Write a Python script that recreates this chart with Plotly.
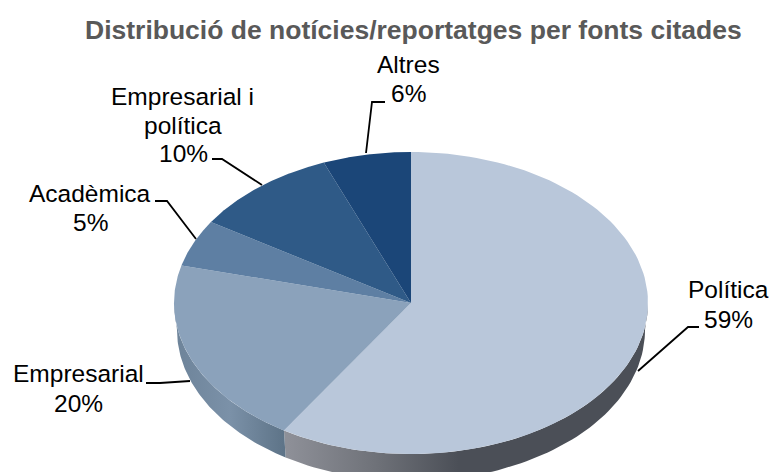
import numpy as np
import plotly.graph_objects as go

categories = ["Política", "Empresarial", "Acadèmica", "Empresarial i política", "Altres"]
shares = [59, 20, 5, 10, 6]
face_colors = ["#b9c7da", "#8ba2bb", "#5e7fa3", "#2f5a87", "#1b4678"]
title_text = "Distribució de notícies/reportatges per fonts citades"

# geometry of the tilted pie on a pixel-mapped axis
CX, CY, RX, RY, DEPTH, RIM_RX = 411, 303, 237, 151, 27, 234


def pt(deg, dy=0, rx=RX):
    a = np.radians(deg)
    return CX + rx * np.sin(a), CY - RY * np.cos(a) + dy


fig = go.Figure()
edges = np.concatenate([[0], np.cumsum(shares)]) * 3.6

# side wall (only visible on the near half of the ellipse)
side_scales = [
    [[0, "#8f9199"], [0.25, "#6f7279"], [0.48, "#4b4f57"], [1, "#4b4f57"]],
    [[0, "#6d8399"], [0.5, "#7b91a8"], [1, "#5d7387"]],
]
for i, cs in enumerate(side_scales):
    a0, a1 = max(edges[i], 90), min(edges[i + 1], 270)
    t = np.linspace(a0, a1, 80)
    xu, yu = pt(t)
    xl, yl = pt(t[::-1], DEPTH, RIM_RX)
    fig.add_trace(go.Scatter(
        x=np.r_[xu, xl], y=np.r_[yu, yl], mode="lines", line=dict(width=0),
        fill="toself", fillgradient=dict(type="horizontal", colorscale=cs),
        hoverinfo="skip", showlegend=False))

# top face
for i, name in enumerate(categories):
    t = np.linspace(edges[i], edges[i + 1], 120)
    xa, ya = pt(t)
    fig.add_trace(go.Scatter(
        x=np.r_[CX, xa, CX], y=np.r_[CY, ya, CY], mode="lines",
        line=dict(width=0), fill="toself", fillcolor=face_colors[i],
        name=name, hoverinfo="name", showlegend=False))

FONT = "Liberation Sans, Arial, sans-serif"
text_lines = [
    ("Altres", 408, 64), ("6%", 408, 93),
    ("Empresarial i", 182, 96), ("política", 183, 125), ("10%", 183, 153),
    ("Acadèmica", 90, 193), ("5%", 90, 222),
    ("Política", 728, 289), ("59%", 728, 319),
    ("Empresarial", 78, 373), ("20%", 78, 403),
]
annotations = [dict(x=x, y=y, text=s, xref="x", yref="y", showarrow=False,
                    xanchor="center", yanchor="middle",
                    font=dict(family=FONT, size=24.5, color="#000000"))
               for s, x, y in text_lines]
annotations.append(dict(x=413, y=30, text=f"<b>{title_text}</b>", xref="x", yref="y",
                        showarrow=False, xanchor="center", yanchor="middle",
                        font=dict(family=FONT, size=26.5, color="#595959")))

leaders = [
    [(366, 153), (372, 102), (385, 102)],
    [(262, 185), (222, 159), (212, 159)],
    [(196, 239), (167, 201), (155, 201)],
    [(638, 371), (688, 327), (699, 327)],
    [(190, 381), (160, 383), (146, 383)],
]
shapes = [dict(type="path", xref="x", yref="y",
               path="M" + " L".join(f"{x},{y}" for x, y in pts),
               line=dict(color="#000000", width=1.8))
          for pts in leaders]

fig.update_layout(
    width=769, height=472, margin=dict(l=0, r=0, t=0, b=0),
    paper_bgcolor="white", plot_bgcolor="white", showlegend=False,
    xaxis=dict(range=[0, 769], visible=False, fixedrange=True),
    yaxis=dict(range=[472, 0], visible=False, fixedrange=True),
    annotations=annotations, shapes=shapes,
)
fig.write_html("out.html", post_script="document.body.style.margin='0';",
               config={"displayModeBar": False})
